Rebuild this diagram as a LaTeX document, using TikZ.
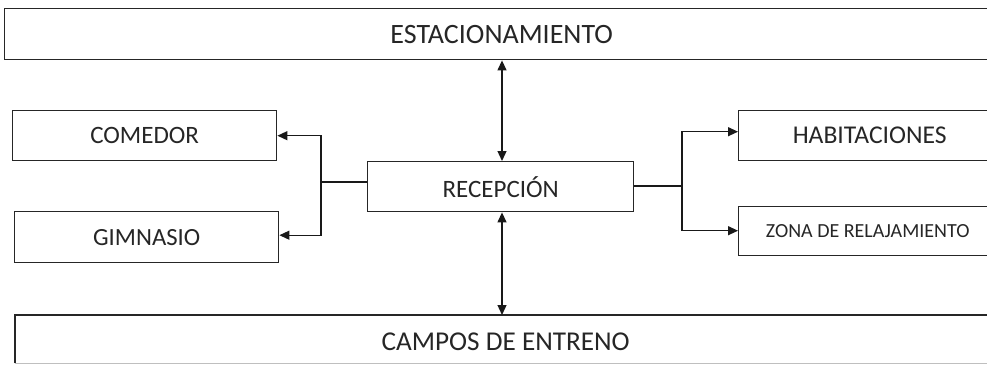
\documentclass[tikz,border=0pt]{standalone}
\usepackage{fontspec}
\setmainfont{Carlito}
\usetikzlibrary{arrows.meta}
\begin{document}
\begin{tikzpicture}[x=1pt,y=-1pt,
  boxline/.style={draw=black!85, line width=1.4pt},
  box/.style={boxline, rectangle, inner sep=0pt, anchor=north west, text=black!85},
  conn/.style={line width=1.3pt, draw=black!90},
  tip/.style={-{Triangle[length=10pt,width=9pt]}},
  dtip/.style={{Triangle[length=10pt,width=9pt]}-{Triangle[length=10pt,width=9pt]}}]
\useasboundingbox (0,0) rectangle (987,364);
\node[box, minimum width=994pt, minimum height=51pt, font=\fontsize{28}{32}\selectfont] (est) at (4,8) {ESTACIONAMIENTO};
\node[box, minimum width=266pt, minimum height=50pt, font=\fontsize{25}{29}\selectfont] (rec) at (367,161) {RECEPCIÓN};
\node[box, minimum width=264pt, minimum height=50pt, font=\fontsize{25}{29}\selectfont] (com) at (12,110) {COMEDOR};
\node[box, minimum width=264pt, minimum height=51pt, font=\fontsize{24.7}{29}\selectfont] (gim) at (14,211) {GIMNASIO};
\node[box, minimum width=262pt, minimum height=50pt, font=\fontsize{25.6}{29}\selectfont] (hab) at (738,110) {HABITACIONES};
\node[box, minimum width=258pt, minimum height=49pt, font=\fontsize{20}{24}\selectfont] (zona) at (738,206) {ZONA DE RELAJAMIENTO};
\node[box, draw=none, minimum width=980pt, minimum height=52pt, font=\fontsize{27.2}{31}\selectfont] (camp) at (15,315) {CAMPOS DE ENTRENO};
\draw[boxline] ([yshift=5pt]camp.south west) -- (camp.north west) -- ([xshift=40pt]camp.north east);
\draw[draw=black!25, line width=1pt] ([yshift=5pt]camp.south west) -- ([yshift=5pt,xshift=40pt]camp.south east);
\coordinate (lj) at (321,182);
\coordinate (rj) at (682,186);
\draw[conn, dtip] (est.south -| 502,0) -- (rec.north -| 502,0);
\draw[conn, dtip] (rec.south -| 502,0) -- (camp.north -| 502,0);
\draw[conn] (rec.west |- lj) -- (lj);
\draw[conn, tip] (lj) |- (com.east);
\draw[conn, tip] (lj) |- ([yshift=2pt]gim.east);
\draw[conn, line width=2.4pt] (rec.east |- rj) -- (rj);
\draw[conn, tip] (rj) |- ([yshift=4pt]hab.west);
\draw[conn, tip] (rj) |- ([yshift=0.5pt]zona.west);
\end{tikzpicture}
\end{document}
